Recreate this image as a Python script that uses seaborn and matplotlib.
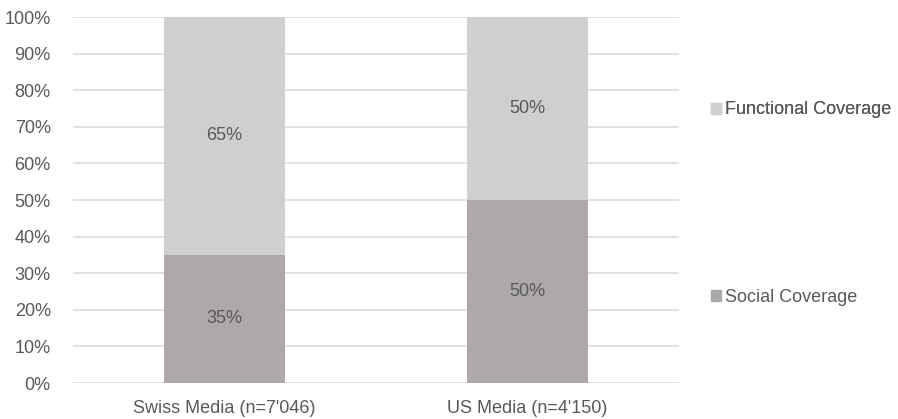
import matplotlib
matplotlib.use("Agg")
import matplotlib.pyplot as plt
import seaborn as sns
import pandas as pd
from matplotlib.patches import Patch

categories = ["Swiss Media (n=7'046)", "US Media (n=4'150)"]
social = [35, 50]
functional = [65, 50]
series_names = ["Functional Coverage", "Social Coverage"]

c_func = "#D0CECF"
c_soc = "#ADA9A8"
txt = "#595959"

sns.set_theme(style="white")
plt.rcParams['font.family'] = ['Liberation Sans', 'DejaVu Sans']

fs = 13
fig = plt.figure(figsize=(8.98, 4.19), dpi=100)
ax = fig.add_axes([73/898, 1-383/419, (679-73)/898, (383-17)/419])

df = pd.DataFrame({"cat": categories, "social": social,
                   "total": [s + f for s, f in zip(social, functional)]})

for v in range(0, 101, 10):
    ax.axhline(v, color="#DEDEDE", lw=1.3, zorder=0)

sns.barplot(data=df, x="cat", y="total", color=c_func, width=0.40, ax=ax,
            saturation=1, zorder=2, linewidth=0)
sns.barplot(data=df, x="cat", y="social", color=c_soc, width=0.40, ax=ax,
            saturation=1, zorder=3, linewidth=0)

for i, (s, f) in enumerate(zip(social, functional)):
    ax.text(i, s / 2, f"{s}%", ha="center", va="center", color=txt, fontsize=fs, zorder=4)
    ax.text(i, s + f / 2, f"{f}%", ha="center", va="center", color=txt, fontsize=fs, zorder=4)

ax.set_ylim(0, 100)
ax.set_xlim(-0.5, 1.5)
ax.set_yticks(range(0, 101, 10))
ax.set_yticklabels([f"{v}%" for v in range(0, 101, 10)])
ax.tick_params(axis="both", colors=txt, labelsize=fs, length=0)
ax.tick_params(axis="y", pad=16)
ax.tick_params(axis="x", pad=12)
ax.set_xlabel("")
ax.set_ylabel("")
for sp in ax.spines.values():
    sp.set_visible(False)

common = dict(loc="center left", frameon=False, fontsize=fs, handlelength=0.55,
              handleheight=0.55, handletextpad=0.25, borderaxespad=0, borderpad=0,
              labelcolor=txt)
leg1 = fig.legend(handles=[Patch(color=c_func, label=series_names[0])],
                  bbox_to_anchor=(711/898, 1-110/419), **common)
fig.add_artist(leg1)
leg2 = fig.legend(handles=[Patch(color=c_soc, label=series_names[1])],
                  bbox_to_anchor=(711/898, 1-297/419), **common)

fig.savefig("out.png", dpi=100)
